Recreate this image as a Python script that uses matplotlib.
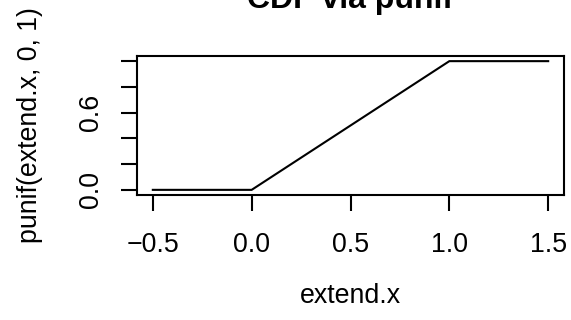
import numpy as np
import matplotlib
matplotlib.use("Agg")
import matplotlib.pyplot as plt

plt.rcParams['font.family'] = ['Liberation Sans', 'DejaVu Sans']

# data: uniform(0, 1) cdf over the extended range
extendX = [-0.5, 0.0, 1.0, 1.5]
cdfValues = [0.0, 0.0, 1.0, 1.0]
xTicks = [-0.5, 0.0, 0.5, 1.0, 1.5]
xTickLabels = ["\u22120.5", "0.0", "0.5", "1.0", "1.5"]
yTicks = [0.0, 0.2, 0.4, 0.6, 0.8, 1.0]
yTickLabels = ["0.0", "", "", "0.6", "", ""]

W, H = 571, 320
fig = plt.figure(figsize=(W / 100, H / 100), dpi=100)
ax = fig.add_axes([137 / W, 1 - 195 / H, (564 - 137) / W, (195 - 56) / H])

ax.plot(extendX, cdfValues, color='black', lw=1.5, solid_joinstyle='miter')
ax.set_xlim(-0.58, 1.58)
ax.set_ylim(-0.04, 1.04)

ax.set_xticks(xTicks)
ax.set_xticklabels(xTickLabels)
ax.set_yticks(yTicks)
ax.set_yticklabels(yTickLabels, rotation=90, va='center')
ax.tick_params(axis='both', direction='out', length=11.5, width=1.5, labelsize=19.3)
ax.tick_params(axis='x', pad=15.5)
ax.tick_params(axis='y', pad=12.5)

for s in ax.spines.values():
    s.set_linewidth(1.5)

fig.text(350 / W, 1 - 8 / H, "CDF via punif", ha='center', va='baseline',
         fontsize=23, fontweight='bold')
fig.text(350 / W, 1 - 303 / H, "extend.x", ha='center', va='baseline', fontsize=19.3)
fig.text(30 / W, 1 - 125 / H, "punif(extend.x, 0, 1)", ha='center', va='center',
         rotation=90, fontsize=19.3)

fig.savefig("out.png", dpi=100)
